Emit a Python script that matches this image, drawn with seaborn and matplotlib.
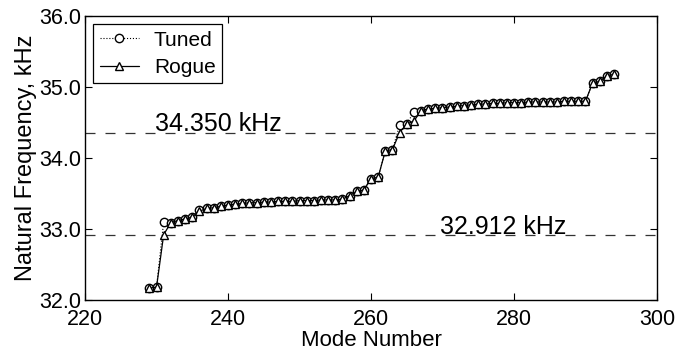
import numpy as np
import pandas as pd
import matplotlib
matplotlib.use("Agg")
import matplotlib.pyplot as plt
import seaborn as sns

# mode numbers and natural frequencies (kHz)
modes = list(range(229, 295))
tuned = [32.17, 32.18, 33.10, 33.09, 33.12, 33.14, 33.17, 33.27, 33.29, 33.30,
         33.32, 33.34, 33.35, 33.36, 33.37, 33.37, 33.38, 33.38, 33.39, 33.39,
         33.39, 33.40, 33.40, 33.40, 33.41, 33.41, 33.41, 33.42, 33.47, 33.53,
         33.55, 33.71, 33.73, 34.10, 34.12, 34.46, 34.48, 34.65, 34.67, 34.69,
         34.70, 34.71, 34.72, 34.73, 34.74, 34.75, 34.76, 34.76, 34.77, 34.77,
         34.78, 34.78, 34.78, 34.79, 34.79, 34.79, 34.79, 34.79, 34.80, 34.80,
         34.80, 34.80, 35.06, 35.08, 35.16, 35.18]
rogue = list(tuned)
rogue[modes.index(231)] = 32.92
rogue[modes.index(236)] = 33.25
rogue[modes.index(264)] = 34.36
rogue[modes.index(266)] = 34.52

ref_freqs = [34.350, 32.912]
ref_labels = ["34.350 kHz", "32.912 kHz"]
ref_label_x = [229.8, 269.6]

data = pd.DataFrame({"Mode": modes, "Tuned": tuned, "Rogue": rogue})

sns.set_style("ticks")
plt.rcParams["font.family"] = ["Liberation Sans", "DejaVu Sans"]
plt.rcParams["text.color"] = "black"
plt.rcParams["axes.labelcolor"] = "black"
plt.rcParams["xtick.color"] = "black"
plt.rcParams["ytick.color"] = "black"

fig = plt.figure(figsize=(6.78, 3.58), dpi=100)
ax = fig.add_axes([0.1254, 0.162, 0.8436, 0.793])

sns.lineplot(data=data, x="Mode", y="Tuned", ax=ax, color="black", linestyle=":",
             linewidth=0.8, marker="o", markersize=6, markerfacecolor="white",
             markeredgecolor="black", markeredgewidth=1.0, label="Tuned")
sns.lineplot(data=data, x="Mode", y="Rogue", ax=ax, color="black", linestyle="-",
             linewidth=0.9, marker="^", markersize=6, markerfacecolor="white",
             markeredgecolor="black", markeredgewidth=1.0, label="Rogue")

for f, lab, lx in zip(ref_freqs, ref_labels, ref_label_x):
    ax.axhline(f, color="#333333", linestyle=(0, (8, 8)), linewidth=0.9, zorder=1)
    ax.text(lx, f + 0.025, lab, fontsize=18, va="baseline", ha="left")

ax.set_xlim(220, 300)
ax.set_ylim(32, 36)
ax.set_xticks([220, 240, 260, 280, 300])
ax.set_yticks([32, 33, 34, 35, 36])
ax.yaxis.set_major_formatter(matplotlib.ticker.FormatStrFormatter("%.1f"))
ax.tick_params(direction="in", length=5, width=0.8, labelsize=15.5,
               top=True, right=True)
ax.tick_params(axis="x", pad=6.5)
ax.tick_params(axis="y", pad=3)
for s in ax.spines.values():
    s.set_visible(True)
    s.set_linewidth(1.0)
    s.set_color("black")

ax.set_xlabel("Mode Number", fontsize=16, labelpad=0)
ax.set_ylabel("Natural Frequency, kHz", fontsize=17, labelpad=1)

leg = ax.legend(loc="upper left", fontsize=15, frameon=True, fancybox=False,
                edgecolor="black", borderpad=0.3, handlelength=1.9,
                handletextpad=0.7, labelspacing=0.4, borderaxespad=0.4)
leg.get_frame().set_linewidth(0.9)
leg.get_frame().set_alpha(1)

fig.savefig("out.png", dpi=100)
